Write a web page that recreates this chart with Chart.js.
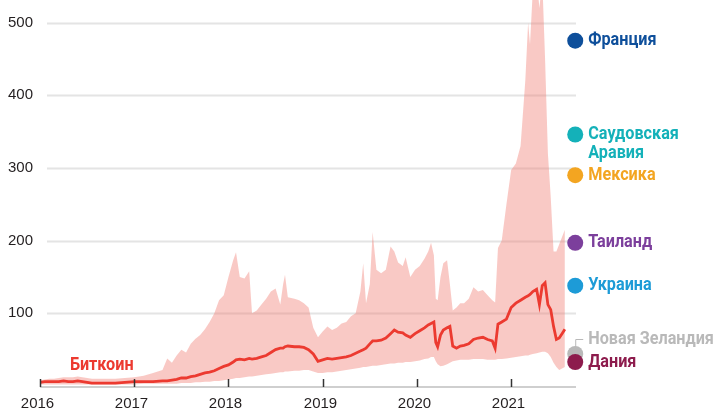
<!DOCTYPE html>
<html>
<head>
<meta charset="utf-8">
<script src="https://cdn.jsdelivr.net/npm/chart.js@4.4.0/dist/chart.umd.min.js"></script>
<style>
  html, body { margin: 0; padding: 0; background: #fff; }
</style>
</head>
<body>
<canvas id="chart" width="713" height="412"></canvas>
<script>
// Bitcoin electricity use, TWh per year: upper estimate, central estimate, lower estimate
const dates = [
  2016.00, 2016.05, 2016.10, 2016.15, 2016.20, 2016.25, 2016.30, 2016.35, 2016.40, 2016.45,
  2016.50, 2016.55, 2016.60, 2016.70, 2016.80, 2016.90, 2017.00, 2017.10, 2017.20, 2017.30,
  2017.35, 2017.40, 2017.45, 2017.50, 2017.55, 2017.60, 2017.65, 2017.70, 2017.75, 2017.80,
  2017.85, 2017.90, 2017.95, 2018.00, 2018.05, 2018.08, 2018.12, 2018.17, 2018.22, 2018.25,
  2018.30, 2018.35, 2018.40, 2018.45, 2018.50, 2018.55, 2018.58, 2018.60, 2018.63, 2018.70,
  2018.75, 2018.80, 2018.85, 2018.90, 2018.95, 2019.00, 2019.05, 2019.10, 2019.15, 2019.20,
  2019.25, 2019.30, 2019.35, 2019.40, 2019.43, 2019.46, 2019.50, 2019.53, 2019.57, 2019.62,
  2019.67, 2019.72, 2019.76, 2019.80, 2019.85, 2019.88, 2019.93, 2019.98, 2020.03, 2020.08,
  2020.12, 2020.15, 2020.18, 2020.20, 2020.22, 2020.25, 2020.28, 2020.32, 2020.35, 2020.38,
  2020.42, 2020.46, 2020.50, 2020.55, 2020.60, 2020.65, 2020.70, 2020.75, 2020.80, 2020.83,
  2020.86, 2020.90, 2020.95, 2021.00, 2021.05, 2021.10, 2021.15, 2021.18, 2021.20, 2021.23,
  2021.27, 2021.30, 2021.33, 2021.36, 2021.39, 2021.42, 2021.45, 2021.48, 2021.51, 2021.54,
  2021.57
];
const maxTWh = [
  8, 9, 10, 10, 11, 12, 12, 12, 13, 12,
  11, 10, 10, 10, 10, 11, 12, 14, 18, 22,
  38, 32, 42, 50, 46, 58, 65, 70, 78, 88,
  100, 118, 125, 150, 173, 184, 150, 148, 158, 100,
  104, 112, 120, 130, 134, 112, 140, 153, 122, 120,
  118, 114, 108, 80, 67, 75, 82, 77, 80, 86,
  88, 96, 100, 130, 169, 114, 140, 212, 160, 155,
  160, 192, 185, 170, 165, 177, 150, 160, 165, 175,
  185, 197, 180, 120, 118, 150, 169, 173, 140, 104,
  108, 114, 114, 120, 136, 130, 132, 125, 118, 115,
  190, 200, 250, 297, 306, 330, 420, 500, 470, 545,
  560, 520, 560, 450, 320, 260, 185, 185, 195, 205,
  215
];
const estTWh = [
  5, 6, 6, 6, 6, 7, 6, 6, 7, 6,
  5, 4, 4, 4, 4, 5, 6, 6, 6, 7,
  7, 8, 9, 11, 11, 13, 14, 16, 18, 19,
  21, 24, 27, 29, 33, 36, 37, 36, 38, 37,
  38, 40, 42, 46, 50, 52, 52, 54, 55, 54,
  54, 53, 50, 44, 34, 36, 38, 37, 38, 39,
  40, 42, 45, 48, 50, 52, 58, 62, 62, 63,
  66, 72, 77, 74, 73, 70, 67, 72, 76, 80,
  84, 86, 88, 60, 54, 70, 77, 80, 82, 55,
  52, 55, 56, 58, 64, 66, 67, 64, 62, 52,
  85, 88, 92, 108, 114, 118, 122, 124, 126, 130,
  133, 112, 138, 142, 112, 105, 82, 64, 66, 72,
  78
];
const minTWh = [
  2, 2, 2, 2, 2, 2, 2, 2, 2, 2,
  2, 2, 2, 2, 2, 2, 2, 3, 3, 3,
  3, 3, 3, 4, 4, 4, 5, 5, 6, 6,
  7, 7, 8, 9, 10, 11, 11, 12, 13, 13,
  14, 15, 16, 17, 18, 19, 19, 20, 20, 21,
  21, 22, 22, 20, 18, 18, 19, 19, 20, 21,
  22, 23, 24, 25, 26, 26, 27, 28, 28, 29,
  30, 31, 31, 32, 32, 33, 33, 34, 35, 37,
  38, 40, 40, 34, 30, 27, 28, 30, 32, 34,
  35, 36, 36, 36, 37, 37, 37, 36, 36, 36,
  37, 37, 38, 39, 40, 41, 42, 42, 43, 44,
  45, 46, 47, 47, 45, 40, 32, 26, 22, 24,
  26
];

// countries for comparison, TWh per year
const countries = ['Франция', 'Саудовская\nАравия', 'Мексика', 'Таиланд', 'Украина', 'Новая Зеландия', 'Дания'];
const countryTWh = [475, 346, 290, 197, 138, 44, 33];
const countryColors = ['#0e4f9b', '#14b1b9', '#f3a521', '#7c3f9c', '#1d9bd7', '#b9b9b9', '#8d1c4d'];
const countryX = 2021.68;

const yTicks = [100, 200, 300, 400, 500];
const yearTicks = [2016, 2017, 2018, 2019, 2020, 2021];

const boldFont = 'bold 18px Roboto, "DejaVu Sans Condensed", sans-serif';
const numFont = '15px "Liberation Sans", Arial, sans-serif';
const squeeze = 0.9;

const pts = arr => dates.map((d, i) => ({ x: d, y: arr[i] }));

// narrow bold labels: the picture uses a condensed face, so squeeze Roboto a bit
function narrowText(ctx, text, x, y) {
  ctx.save();
  ctx.translate(x, y);
  ctx.scale(squeeze, 1);
  ctx.fillText(text, 0, 0);
  ctx.restore();
}

const decor = {
  id: 'decor',
  beforeDatasetsDraw(chart) {
    const ctx = chart.ctx;
    const y = chart.scales.y;
    const right = chart.chartArea.right - 3;
    ctx.save();
    ctx.strokeStyle = '#e4e4e4';
    ctx.lineWidth = 2;
    yTicks.forEach(v => {
      const py = Math.round(y.getPixelForValue(v)) + 0.5;
      ctx.beginPath();
      ctx.moveTo(47, py);
      ctx.lineTo(right, py);
      ctx.stroke();
    });
    ctx.fillStyle = '#231f20';
    ctx.font = numFont;
    ctx.textAlign = 'right';
    ctx.textBaseline = 'middle';
    yTicks.forEach(v => ctx.fillText(String(v), 33, y.getPixelForValue(v)));
    ctx.restore();
  },
  afterDatasetsDraw(chart) {
    const ctx = chart.ctx;
    const x = chart.scales.x, y = chart.scales.y;
    const base = y.getPixelForValue(0);
    ctx.save();
    // baseline
    ctx.strokeStyle = '#cfcfcf';
    ctx.lineWidth = 2;
    ctx.beginPath();
    ctx.moveTo(x.getPixelForValue(2016), base + 1);
    ctx.lineTo(chart.chartArea.right - 3, base + 1);
    ctx.stroke();
    // year ticks and labels
    ctx.strokeStyle = '#333';
    ctx.lineWidth = 1.5;
    ctx.fillStyle = '#231f20';
    ctx.font = numFont;
    ctx.textAlign = 'center';
    ctx.textBaseline = 'middle';
    yearTicks.forEach(t => {
      const px = Math.round(x.getPixelForValue(t)) + 0.5;
      ctx.beginPath();
      ctx.moveTo(px, base + 1);
      ctx.lineTo(px, base - 7);
      ctx.stroke();
      ctx.fillText(String(t), px - 3, 404);
    });
    // series label
    ctx.font = boldFont;
    ctx.fillStyle = '#ec3a30';
    ctx.textAlign = 'left';
    narrowText(ctx, 'Биткоин', 70, 365);
    // country labels
    const lx = x.getPixelForValue(countryX) + 13;
    countries.forEach((name, i) => {
      let py = y.getPixelForValue(countryTWh[i]);
      ctx.fillStyle = countryColors[i];
      if (name === 'Новая Зеландия') {
        const ly = py - 15;
        const cx = x.getPixelForValue(countryX);
        ctx.strokeStyle = '#b9b9b9';
        ctx.lineWidth = 1;
        ctx.beginPath();
        ctx.moveTo(cx + 0.5, py - 7);
        ctx.lineTo(cx + 0.5, ly + 0.5);
        ctx.lineTo(cx + 8, ly + 0.5);
        ctx.stroke();
        py = ly;
      }
      name.split('\n').forEach((line, k) => narrowText(ctx, line, lx, py + k * 19));
    });
    ctx.restore();
  }
};

new Chart(document.getElementById('chart'), {
  type: 'line',
  data: {
    datasets: [
      {
        label: 'max',
        data: pts(maxTWh),
        fill: '+1',
        backgroundColor: 'rgba(240, 120, 110, 0.4)',
        borderWidth: 0,
        pointRadius: 0,
        order: 3
      },
      {
        label: 'min',
        data: pts(minTWh),
        fill: false,
        borderWidth: 0,
        pointRadius: 0,
        order: 3
      },
      {
        label: 'Биткоин',
        data: pts(estTWh),
        borderColor: '#ec3a30',
        borderWidth: 2.8,
        pointRadius: 0,
        fill: false,
        order: 1
      },
      {
        label: 'countries',
        data: countryTWh.map(v => ({ x: countryX, y: v })),
        showLine: false,
        pointRadius: 8,
        pointBackgroundColor: countryColors,
        pointBorderWidth: 0,
        clip: false,
        order: 0
      }
    ]
  },
  options: {
    responsive: false,
    animation: false,
    devicePixelRatio: 1,
    // no auto padding, the band must run right up to the top edge
    layout: { autoPadding: false, padding: { left: 40, right: 134, top: 0, bottom: 26 } },
    scales: {
      x: { type: 'linear', min: 2016, max: 2021.72, display: false },
      y: { min: 0, max: 531, display: false }
    },
    plugins: {
      legend: { display: false },
      tooltip: { enabled: false }
    }
  },
  plugins: [decor]
});
</script>
</body>
</html>
